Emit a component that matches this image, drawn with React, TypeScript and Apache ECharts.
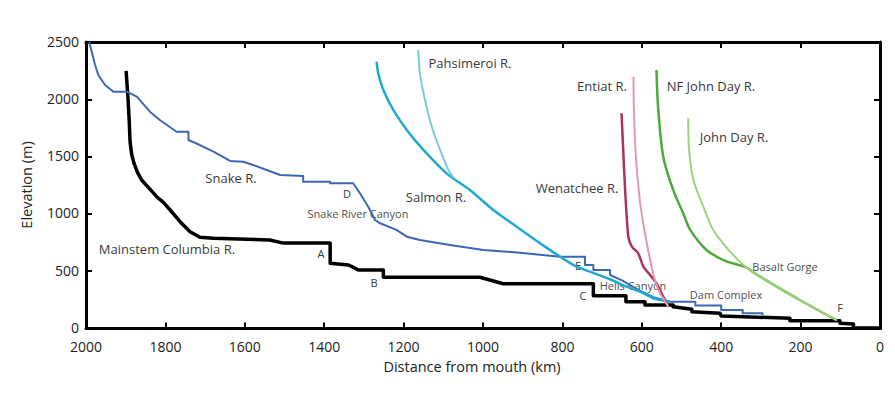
import React, { useEffect, useRef } from "react";
import * as echarts from "echarts";

// Distance from mouth (km), Elevation (m)
const mainstemColumbia: number[][] = [
  [1899, 2247], [1894, 2000], [1891, 1800], [1889, 1630], [1885, 1520], [1879, 1440],
  [1870, 1360], [1860, 1296], [1840, 1220], [1822, 1150], [1805, 1100], [1788, 1034],
  [1763, 932], [1738, 845], [1713, 796], [1679, 787], [1595, 778], [1537, 772],
  [1503, 745], [1385, 745], [1385, 569], [1339, 554], [1330, 540], [1314, 510],
  [1251, 510], [1251, 447], [1008, 447], [949, 390], [722, 390], [722, 285], [640, 285],
  [640, 234], [592, 234], [592, 205], [521, 205], [521, 190], [474, 168], [474, 147],
  [403, 133], [400, 109], [227, 89], [227, 68], [101, 68], [101, 45], [67, 39], [67, 7],
  [0, 5],
];
const snakeR: number[][] = [
  [1992, 2500], [1977, 2299], [1969, 2212], [1952, 2125], [1931, 2066], [1897, 2066],
  [1872, 2023], [1839, 1892], [1814, 1819], [1772, 1717], [1742, 1717], [1742, 1645],
  [1713, 1601], [1679, 1543], [1637, 1462], [1604, 1455], [1579, 1427], [1545, 1383],
  [1511, 1339], [1453, 1331], [1453, 1281], [1385, 1281], [1385, 1267], [1327, 1267],
  [1310, 1180], [1289, 1063], [1272, 947], [1259, 918], [1218, 860], [1192, 801],
  [1159, 772], [1083, 729], [999, 685], [907, 661], [806, 627], [743, 627], [743, 554],
  [722, 554], [722, 510], [680, 510], [680, 467], [650, 420], [610, 340], [571, 274],
  [529, 234], [465, 234], [465, 200], [400, 200], [400, 161], [346, 161], [346, 133],
  [296, 133], [296, 115],
];
const salmonR: number[][] = [
  [1268, 2328], [1264, 2227], [1251, 2081], [1226, 1907], [1192, 1732], [1150, 1558],
  [1092, 1354], [1033, 1209], [974, 1034], [915, 888], [856, 743], [806, 627],
  [764, 539], [726, 490], [680, 430], [638, 365], [600, 315], [571, 264], [529, 234],
];
const pahsimeroiR: number[][] = [
  [1163, 2430], [1159, 2227], [1146, 1994], [1129, 1761], [1108, 1558], [1087, 1383],
  [1075, 1320],
];
const wenatcheeR: number[][] = [
  [651, 1878], [648, 1645], [642, 1209], [634, 801], [625, 714], [609, 656], [596, 539],
  [579, 467], [563, 394], [546, 277], [533, 190],
];
const entiatR: number[][] = [
  [621, 2197], [620, 1935], [615, 1499], [605, 1121], [592, 831], [579, 598], [567, 423],
  [554, 307], [533, 190],
];
const nfJohnDayR: number[][] = [
  [563, 2256], [559, 1935], [546, 1499], [521, 1209], [495, 1000], [478, 860],
  [437, 685], [390, 590], [337, 534], [319, 490], [260, 365], [202, 249], [134, 118],
  [109, 72],
];
const johnDayR: number[][] = [
  [483, 1834], [481, 1558], [470, 1296], [445, 1063], [420, 860], [385, 700],
  [355, 590], [337, 534], [319, 490], [260, 365], [202, 249], [134, 118], [109, 72],
];

const xTicks = { min: 0, max: 2000, interval: 200 };
const yTicks = { min: 0, max: 2500, interval: 500 };

const FONT = "Open Sans";

function label(text: string, x: number, y: number, size = 13, color = "#3a3a3a", rotation = 0) {
  return {
    type: "text",
    x,
    y,
    rotation,
    silent: true,
    style: {
      text,
      fill: color,
      font: `${size}px "${FONT}"`,
      textAlign: "center",
      textVerticalAlign: "middle",
    },
  };
}

export default function App() {
  const ref = useRef<HTMLDivElement>(null);
  useEffect(() => {
    if (!ref.current) return;
    const chart = echarts.init(ref.current, null, { renderer: "svg" });
    const line = (name: string, data: number[][], color: string, width: number, smooth = 0) => ({
      name,
      type: "line",
      data,
      showSymbol: false,
      symbol: "none",
      smooth,
      lineStyle: { color, width, join: "round" },
      xAxisIndex: 0,
      yAxisIndex: 0,
      silent: true,
    });
    const axisCommon = {
      type: "value",
      splitLine: { show: false },
      axisLine: { show: true, onZero: false, lineStyle: { color: "#000", width: 3 } },
      axisTick: { show: true, inside: true, length: 6, lineStyle: { color: "#000", width: 2 } },
    };
    chart.setOption({
      animation: false,
      backgroundColor: "#fff",
      grid: { left: 86, right: 15, top: 42, bottom: 64.5, containLabel: false },
      xAxis: [
        {
          ...axisCommon,
          ...xTicks,
          inverse: true,
          position: "bottom",
          axisLabel: {
            fontFamily: FONT, fontSize: 14, color: "#222", margin: 11,
            formatter: (v: number) => String(v),
          },
        },
        {
          ...axisCommon,
          ...xTicks,
          inverse: true,
          position: "top",
          axisLabel: { show: false },
        },
      ],
      yAxis: [
        {
          ...axisCommon,
          ...yTicks,
          position: "left",
          axisLabel: {
            fontFamily: FONT, fontSize: 14, color: "#222", margin: 7,
            formatter: (v: number) => String(v),
            verticalAlign: "bottom",
            padding: [0, 0, -6, 0],
          },
        },
        {
          ...axisCommon,
          ...yTicks,
          position: "right",
          axisLabel: { show: false },
        },
      ],
      series: [
        line("Mainstem Columbia R.", mainstemColumbia, "#000000", 3.5),
        line("Snake R.", snakeR, "#3c67b2", 2),
        line("Salmon R.", salmonR, "#22a9cf", 2.5, 0.3),
        line("Pahsimeroi R.", pahsimeroiR, "#7ccbd8", 2, 0.3),
        line("NF John Day R.", nfJohnDayR, "#4fa93f", 2.5, 0.3),
        line("John Day R.", johnDayR, "#9fd27e", 2, 0.3),
        line("Wenatchee R.", wenatcheeR, "#a8335f", 2.5, 0.25),
        line("Entiat R.", entiatR, "#e498b2", 2, 0.25),
      ],
      graphic: [
        label("Snake R.", 231, 178),
        label("Mainstem Columbia R.", 167, 249),
        label("D", 347, 193, 11),
        label("Snake River Canyon", 358, 213, 11, "#505050"),
        label("A", 321, 253, 11),
        label("B", 374, 282, 11),
        label("Salmon R.", 436, 197),
        label("Wenatchee R.", 577, 188),
        label("Pahsimeroi R.", 470, 63),
        label("Entiat R.", 602, 86),
        label("NF John Day R.", 711, 86),
        label("John Day R.", 734, 137),
        label("Basalt Gorge", 785, 266, 11, "#505050"),
        label("Dam Complex", 726, 294, 11, "#505050"),
        label("Hells Canyon", 633, 285, 11, "#505050"),
        label("C", 583, 295, 11),
        label("E", 578, 265, 11),
        label("F", 840, 307, 11),
        label("Distance from mouth (km)", 472, 366, 14.5, "#222"),
        label("Elevation (m)", 26, 185, 14.5, "#222", Math.PI / 2),
      ],
    });
    return () => chart.dispose();
  }, []);
  return (
    <div
      ref={ref}
      style={{ position: "fixed", left: 0, top: 0, width: 895, height: 393, background: "#fff" }}
    />
  );
}
